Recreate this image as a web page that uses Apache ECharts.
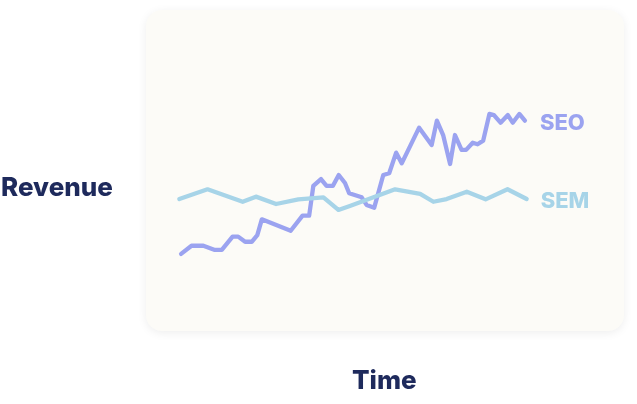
<!DOCTYPE html>
<html><head><meta charset="utf-8">
<script src="https://cdn.jsdelivr.net/npm/echarts@6/dist/echarts.min.js"></script>
<style>html,body{margin:0;padding:0;background:#fff}#c{width:637px;height:404px}</style>
</head><body><div id="c"></div>
<script>
const xLabel = 'Time';
const yLabel = 'Revenue';
const seriesNames = ['SEO', 'SEM'];
const seoTime = [0.6,3.6,7.0,10.3,12.3,15.4,17.0,19.0,20.9,22.5,23.8,32.1,35.5,37.4,38.6,40.8,42.4,44.2,45.9,47.7,48.9,52.5,53.9,56.1,58.7,60.4,62.4,64.0,69.0,72.6,74.1,75.9,77.9,79.3,81.2,82.5,84.4,85.8,87.4,89.2,90.5,92.4,94.5,95.9,97.8,99.4];
const seoValues = [3.8,8.9,8.9,6.3,6.3,14.6,14.6,11.4,11.4,15.6,25.4,18.3,27.7,27.7,46.3,50.6,46.3,46.3,53.1,48.1,41.7,39.2,34.4,32.7,53.1,54.2,67.1,60.4,82.7,71.9,87.1,78.1,60.0,78.1,68.8,68.8,73.3,72.3,74.6,91.3,90.6,85.8,90.6,85.8,91.3,87.1];
const semTime = [0.1,8.2,18.3,22.1,27.9,34.3,41.5,45.8,49.1,62.1,69.3,73.1,76.9,82.7,88.1,94.4,99.9];
const semValues = [38.1,44.2,36.4,39.6,35.0,37.9,39.2,31.3,33.8,44.2,41.3,36.4,38.1,42.7,37.9,44.2,38.1];

const chart = echarts.init(document.getElementById('c'), null, {renderer:'canvas'});
const pair = (xs, ys) => xs.map((x,i)=>[x, ys[i]]);
const labelFont = 'Inter, Lato, sans-serif';
chart.setOption({
  animation:false,
  graphic:[
    {type:'rect', z:-10, shape:{x:146,y:10,width:478,height:321,r:16},
     style:{fill:'#fcfbf7', shadowBlur:10, shadowColor:'rgba(0,0,0,0.07)', shadowOffsetY:2}},
    {type:'text', x:1, y:188, style:{text:yLabel, font:'800 26px '+labelFont, fill:'#1e2a5c', verticalAlign:'middle', align:'left'}},
    {type:'text', x:352, y:381, style:{text:xLabel, font:'800 26px '+labelFont, fill:'#1e2a5c', verticalAlign:'middle', align:'left'}}
  ],
  grid:{left:179, right:110, top:100, bottom:144},
  xAxis:{type:'value', min:0, max:100, show:false},
  yAxis:{type:'value', min:0, max:100, show:false},
  series:[
    {name:seriesNames[0], type:'line', data:pair(seoTime, seoValues), symbol:'none',
     lineStyle:{color:'#9ba3f0', width:4.3, join:'round', cap:'round'},
     itemStyle:{color:'#9ba3f0'},
     endLabel:{show:true, formatter:seriesNames[0], distance:15, color:'#9ba3f0', fontSize:22, fontWeight:800, fontFamily:labelFont, offset:[0,3]}},
    {name:seriesNames[1], type:'line', data:pair(semTime, semValues), symbol:'none',
     lineStyle:{color:'#a7d4e8', width:4.3, join:'round', cap:'round'},
     itemStyle:{color:'#a7d4e8'},
     endLabel:{show:true, formatter:seriesNames[1], distance:14, color:'#a7d4e8', fontSize:22, fontWeight:800, fontFamily:labelFont, offset:[0,2]}}
  ]
});
</script></body></html>
